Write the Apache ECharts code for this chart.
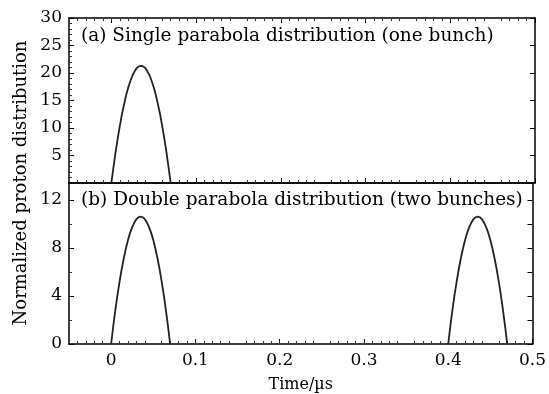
<!DOCTYPE html>
<html><head><meta charset="utf-8">
<script src="https://cdn.jsdelivr.net/npm/echarts@6/dist/echarts.min.js"></script>
<style>html,body{margin:0;padding:0;background:#fff}#c{width:549px;height:394px}</style>
</head><body><div id="c"></div>
<script>
// Sample times (µs) across the first bunch
const bunchTimes = [0, 0.0025, 0.005, 0.0075, 0.01, 0.0125, 0.015, 0.0175, 0.02, 0.0225, 0.025, 0.0275, 0.03, 0.0325, 0.035,
  0.0375, 0.04, 0.0425, 0.045, 0.0475, 0.05, 0.0525, 0.055, 0.0575, 0.06, 0.0625, 0.065, 0.0675, 0.07];
// Sample times (µs) across the second bunch
const secondBunchTimes = [0.4, 0.4025, 0.405, 0.4075, 0.41, 0.4125, 0.415, 0.4175, 0.42, 0.4225, 0.425, 0.4275, 0.43, 0.4325, 0.435,
  0.4375, 0.44, 0.4425, 0.445, 0.4475, 0.45, 0.4525, 0.455, 0.4575, 0.46, 0.4625, 0.465, 0.4675, 0.47];
// (a) single bunch values
const singleValues = [0, 2.9, 5.6, 8.1, 10.4, 12.5, 14.3, 16.0, 17.4, 18.6, 19.6, 20.3, 20.9, 21.2, 21.3,
  21.2, 20.9, 20.3, 19.6, 18.6, 17.4, 16.0, 14.3, 12.5, 10.4, 8.1, 5.6, 2.9, 0];
// (b) values of each of the two bunches
const doubleValues = [0, 1.46, 2.81, 4.06, 5.19, 6.22, 7.14, 7.95, 8.65, 9.25, 9.73, 10.11, 10.39, 10.55, 10.6,
  10.55, 10.39, 10.11, 9.73, 9.25, 8.65, 7.95, 7.14, 6.22, 5.19, 4.06, 2.81, 1.46, 0];
const xTicks = [0, 0.1, 0.2, 0.3, 0.4, 0.5];
const yTicksA = [5, 10, 15, 20, 25, 30];
const yTicksB = [0, 4, 8, 12];
const yTicksBRight = [0, 2, 4, 6, 8, 10, 12];
const labelA = '(a) Single parabola distribution (one bunch)';
const labelB = '(b) Double parabola distribution (two bunches)';
const xTitle = 'Time/\u00b5s';
const yTitle = 'Normalized proton distribution';

const FONT = 'DejaVu Serif';
const FS = 17;
const axisLine = {show: true, onZero: false, lineStyle: {color: '#000', width: 1.5}};
function xAx(gi, pos, labels, ticks) {
  return {
    type: 'value', gridIndex: gi, position: pos, min: -0.05, max: 0.5, interval: 0.1,
    axisLine, splitLine: {show: false},
    axisTick: {show: ticks, inside: true, length: 5, lineStyle: {color: '#000', width: 1}, customValues: xTicks},
    minorTick: {show: ticks, splitNumber: 10, length: 3, lineStyle: {color: '#333', width: 1}},
    axisLabel: {show: labels, customValues: xTicks, color: '#000', fontFamily: FONT, fontSize: FS, margin: 8,
      formatter: v => String(Math.round(v * 10) / 10)},
    name: labels ? xTitle : '', nameLocation: 'middle', nameGap: 33,
    nameTextStyle: {color: '#000', fontFamily: FONT, fontSize: 16}
  };
}
function yAx(gi, pos, max, ticks, minorN, labels) {
  return {
    type: 'value', gridIndex: gi, position: pos, min: 0, max: max,
    axisLine, splitLine: {show: false},
    axisTick: {show: true, inside: true, length: 5, lineStyle: {color: '#000', width: 1}, customValues: ticks},
    minorTick: {show: labels, splitNumber: minorN, length: 3, lineStyle: {color: '#333', width: 1}},
    interval: ticks[1] - ticks[0],
    axisLabel: {show: labels, customValues: ticks, color: '#000', fontFamily: FONT, fontSize: FS, margin: 7}
  };
}
const chart = echarts.init(document.getElementById('c'));
chart.setOption({
  animation: false,
  backgroundColor: '#fff',
  grid: [
    {left: 69, right: 14, top: 18, height: 165},
    {left: 69, right: 14, top: 183, height: 166}
  ],
  xAxis: [xAx(0, 'bottom', false, true), xAx(0, 'top', false, true), xAx(1, 'bottom', true, true), xAx(1, 'top', false, false)],
  yAxis: [yAx(0, 'left', 30, yTicksA, 5, true), yAx(0, 'right', 30, yTicksA, 5, false),
          yAx(1, 'left', 13.4, yTicksB, 2, true), yAx(1, 'right', 13.4, yTicksBRight, 2, false)],
  series: [
    {type: 'line', xAxisIndex: 0, yAxisIndex: 0, data: bunchTimes.map((t, i) => [t, singleValues[i]]),
      showSymbol: false, lineStyle: {color: '#222', width: 1.8}},
    {type: 'line', xAxisIndex: 2, yAxisIndex: 2, data: bunchTimes.map((t, i) => [t, doubleValues[i]]),
      showSymbol: false, lineStyle: {color: '#222', width: 1.8}},
    {type: 'line', xAxisIndex: 2, yAxisIndex: 2, data: secondBunchTimes.map((t, i) => [t, doubleValues[i]]),
      showSymbol: false, lineStyle: {color: '#222', width: 1.8}}
  ],
  graphic: [
    {type: 'text', x: 81, y: 36, style: {text: labelA, fill: '#000', font: '18.5px "' + FONT + '"', verticalAlign: 'middle'}},
    {type: 'text', x: 81, y: 200, style: {text: labelB, fill: '#000', font: '18.5px "' + FONT + '"', verticalAlign: 'middle'}},
    {type: 'text', x: 21, y: 183, rotation: Math.PI / 2,
      style: {text: yTitle, fill: '#000', font: '18px "' + FONT + '"', align: 'center', verticalAlign: 'middle'}}
  ]
});
</script></body></html>
